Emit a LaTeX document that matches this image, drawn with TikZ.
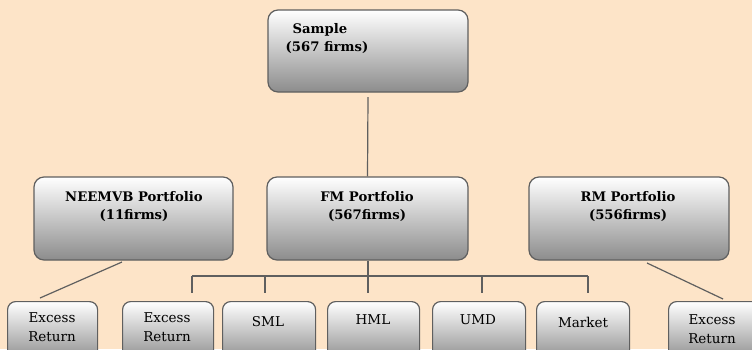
\documentclass[tikz,border=0pt]{standalone}
\usepackage{fontspec}
\setmainfont{DejaVu Serif}
\definecolor{bgpeach}{RGB}{253,228,200}
\definecolor{edgegray}{RGB}{95,95,95}
\begin{document}
\begin{tikzpicture}[x=1pt,y=-1pt,
  box/.style={draw=edgegray,line width=1.2pt,rounded corners=10pt,top color=white,bottom color=black!45,inner sep=0pt},
  sbox/.style={draw=edgegray,line width=1.2pt,rounded corners=8pt,top color=white,bottom color=black!45,inner sep=0pt,minimum height=60pt},
  btxt/.style={font=\fontsize{13.2}{18}\selectfont\bfseries,align=center,inner sep=0pt},
  ntxt/.style={font=\fontsize{13.5}{19}\selectfont,align=center,inner sep=0pt},
  conn/.style={draw=edgegray,line width=1.2pt}]
\useasboundingbox (0,0) rectangle (752,349);
\clip (0,0) rectangle (752,349);
\fill[bgpeach] (0,0) rectangle (752,349);
% top-level boxes
\node[box,minimum width=200pt,minimum height=82pt] (sample) at (368,51) {};
\node[box,minimum width=199pt,minimum height=83pt] (neem) at (133.5,218.5) {};
\node[box,minimum width=201pt,minimum height=83pt] (fm) at (367.5,218.5) {};
\node[box,minimum width=200pt,minimum height=83pt] (rm) at (629,218.5) {};
% texts
\node[btxt] (sampletxt) at (327,39) {\hspace*{-14pt}Sample\\(567 firms)};
\node[btxt] (neemtxt) at (134,207) {NEEMVB Portfolio\\(11firms)};
\node[btxt] (fmtxt) at (367,207) {FM Portfolio\\(567firms)};
\node[btxt] (rmtxt) at (628,207) {RM Portfolio\\(556firms)};
% bottom boxes
\node[sbox,minimum width=90pt,anchor=north west] (b1) at (7,301) {};
\node[sbox,minimum width=91pt,anchor=north west] (b2) at (122,301) {};
\node[sbox,minimum width=93pt,anchor=north west] (b3) at (222,301) {};
\node[sbox,minimum width=92pt,anchor=north west] (b4) at (327,301) {};
\node[sbox,minimum width=93pt,anchor=north west] (b5) at (432,301) {};
\node[sbox,minimum width=93pt,anchor=north west] (b6) at (536,301) {};
\node[sbox,minimum width=92pt,anchor=north west] (b7) at (668,301) {};
\node[ntxt] (t1) at (52,327) {Excess\\Return};
\node[ntxt] (t2) at (167,327) {Excess\\Return};
\node[ntxt] (t3) at (268,322) {SML};
\node[ntxt] (t4) at (373,320) {HML};
\node[ntxt] (t5) at (478,320) {UMD};
\node[ntxt] (t6) at (583,322) {Market};
\node[ntxt] (t7) at (712,329) {Excess\\Return};
% connectors
\coordinate (sbot) at (368,97);
\draw[conn] (sbot) -- (fm.north);
\coordinate (neemA) at (122,262);
\coordinate (neemB) at (40,298);
\draw[conn] (neemA) -- (neemB);
\coordinate (rmA) at (647,263);
\coordinate (rmB) at (723,299);
\draw[conn] (rmA) -- (rmB);
\coordinate (busL) at (192,276);
\coordinate (busR) at (588,276);
\coordinate (busC) at (368,276);
\draw[conn] (fm.south -| busC) -- (busC);
\draw[conn] (busL) -- (busR);
\coordinate (d1) at (192,293);
\coordinate (d2) at (265,293);
\coordinate (d3) at (368,293);
\coordinate (d4) at (482,293);
\coordinate (d5) at (588,293);
\draw[conn] (busL) -- (d1);
\draw[conn] (busL -| d2) -- (d2);
\draw[conn] (busC) -- (d3);
\draw[conn] (busL -| d4) -- (d4);
\draw[conn] (busR) -- (d5);
\end{tikzpicture}
\end{document}
